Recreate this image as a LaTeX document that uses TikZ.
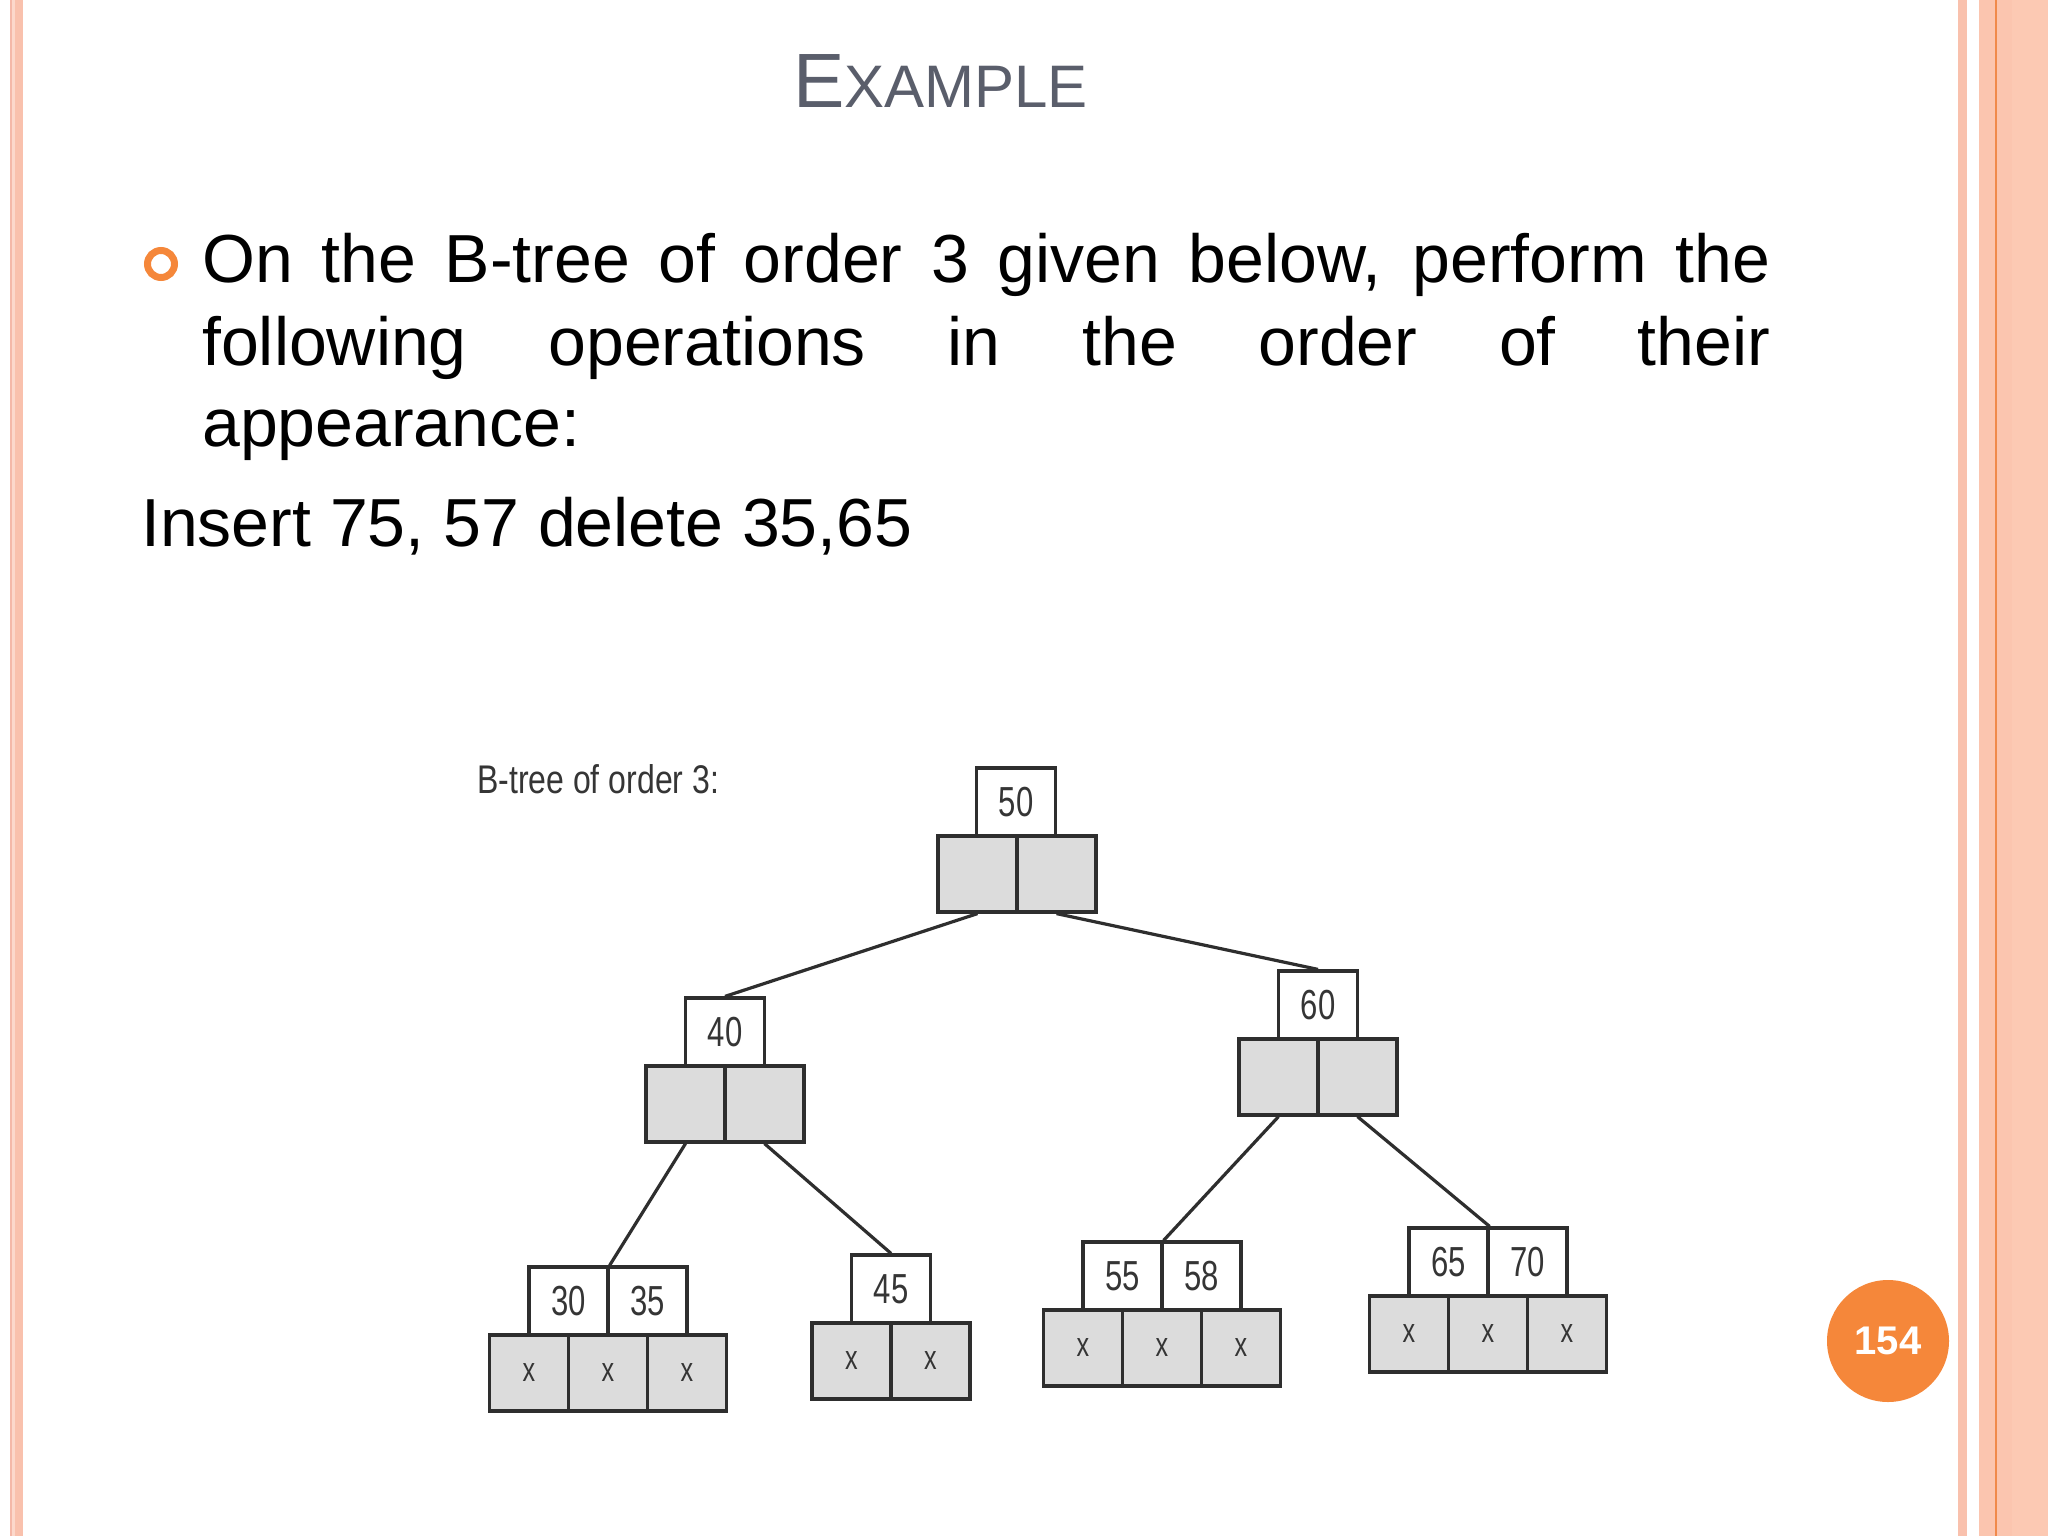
\documentclass[tikz,border=0pt]{standalone}
\usepackage{fontspec}
\setmainfont{Liberation Sans}
\newfontfamily\condfont[FakeStretch=0.74]{Liberation Sans}
\newfontfamily\labfont[FakeStretch=0.80]{Liberation Sans}
\definecolor{titlec}{HTML}{5A5E6B}
\definecolor{orangec}{HTML}{F5873A}
\definecolor{linec}{HTML}{2E2E2E}
\definecolor{digitc}{HTML}{353535}
\definecolor{ptrgray}{HTML}{DCDCDC}
\definecolor{bpinkA}{HTML}{F4B8A8}
\definecolor{bpinkB}{HTML}{FCD8CB}
\definecolor{bsalmon}{HTML}{F9C1AD}
\definecolor{rsalmon}{HTML}{FBC5AF}
\definecolor{rlight}{HTML}{FCC9B3}
\definecolor{rorange}{HTML}{F08A4B}
\tikzset{
  keybox/.style={draw=linec, line width=3.2pt, fill=white, minimum width=79pt,
    minimum height=68pt, inner sep=0pt, text=digitc,
    font=\condfont\fontsize{42}{42}\selectfont},
  ptrcell/.style={draw=linec, line width=3.2pt, fill=ptrgray, minimum width=79pt,
    minimum height=76pt, inner sep=0pt, text=digitc,
    font=\condfont\fontsize{34}{34}\selectfont},
  edge/.style={draw=linec, line width=3.2pt},
  bodytext/.style={anchor=base west, inner sep=0pt, text=black,
    font=\fontsize{68}{82}\selectfont}
}
\begin{document}
\begin{tikzpicture}[x=1pt,y=-1pt]
\useasboundingbox (0,0) rectangle (2048,1536);
\fill[white] (0,0) rectangle (2048,1536);
% left border
\fill[bpinkA] (10,0) rectangle (12,1536);
\fill[bpinkB] (12,0) rectangle (15,1536);
\fill[bsalmon] (15,0) rectangle (23,1536);
% right border
\fill[bsalmon] (1958,0) rectangle (1967,1536);
\fill[rsalmon] (1979,0) rectangle (2012,1536);
\fill[rlight] (2012,0) rectangle (2048,1536);
\fill[rorange] (1995,0) rectangle (1997,1536);

% title
\node[anchor=base west, inner sep=0pt, text=titlec] (title) at (793,108)
  {{\fontsize{77}{77}\selectfont E}{\fontsize{60}{60}\selectfont XAMPLE}};

% bullet
\draw[orangec, line width=7pt] (161,264) circle[radius=13.5pt];
\node[bodytext] (l1) at (202,282) {\makebox[1568pt][s]{On the B-tree of order 3 given below, perform the}};
\node[bodytext] (l2) at (202,365) {\makebox[1568pt][s]{following operations in the order of their}};
\node[bodytext] (l3) at (202,446) {appearance:};
\node[bodytext] (l4) at (141,546) {Insert 75, 57 delete 35,65};

% tree label
\node[anchor=base west, inner sep=0pt, text=digitc, font=\labfont\fontsize{40}{40}\selectfont] (lab) at (477,793) {B-tree of order 3:};

% root
\node[keybox] (rk) at (1016,802) {50};
\node[ptrcell] (r1) at (977.5,874) {};
\node[ptrcell] (r2) at (1056.5,874) {};
% node 40
\node[keybox] (ak) at (725,1032) {40};
\node[ptrcell] (a1) at (685.5,1104) {};
\node[ptrcell] (a2) at (764.5,1104) {};
% node 60
\node[keybox] (bk) at (1318,1005) {60};
\node[ptrcell] (b1) at (1278.5,1077) {};
\node[ptrcell] (b2) at (1357.5,1077) {};
% leaf 30 35
\node[keybox] (ck1) at (568.5,1301) {30};
\node[keybox] (ck2) at (647.5,1301) {35};
\node[ptrcell] (c1) at (529,1373) {x};
\node[ptrcell] (c2) at (608,1373) {x};
\node[ptrcell] (c3) at (687,1373) {x};
% leaf 45
\node[keybox] (dk) at (891,1289) {45};
\node[ptrcell] (d1) at (851.5,1361) {x};
\node[ptrcell] (d2) at (930.5,1361) {x};
% leaf 55 58
\node[keybox] (ek1) at (1122.5,1276) {55};
\node[keybox] (ek2) at (1201.5,1276) {58};
\node[ptrcell] (e1) at (1083,1348) {x};
\node[ptrcell] (e2) at (1162,1348) {x};
\node[ptrcell] (e3) at (1241,1348) {x};
% leaf 65 70
\node[keybox] (fk1) at (1448.5,1262) {65};
\node[keybox] (fk2) at (1527.5,1262) {70};
\node[ptrcell] (f1) at (1409,1334) {x};
\node[ptrcell] (f2) at (1488,1334) {x};
\node[ptrcell] (f3) at (1567,1334) {x};

% edges
\draw[edge] (r1.south) -- (ak.north);
\draw[edge] (r2.south) -- (bk.north);
\draw[edge] (a1.south) -- (ck1.north east);
\draw[edge] (a2.south) -- (dk.north);
\draw[edge] (b1.south) -- (ek1.north east);
\draw[edge] (b2.south) -- (fk1.north east);

% page number
\node[circle, fill=orangec, minimum size=122pt, inner sep=0pt, text=white,
  font=\bfseries\fontsize{40}{40}\selectfont] (pg) at (1888,1341) {154};
\end{tikzpicture}
\end{document}
